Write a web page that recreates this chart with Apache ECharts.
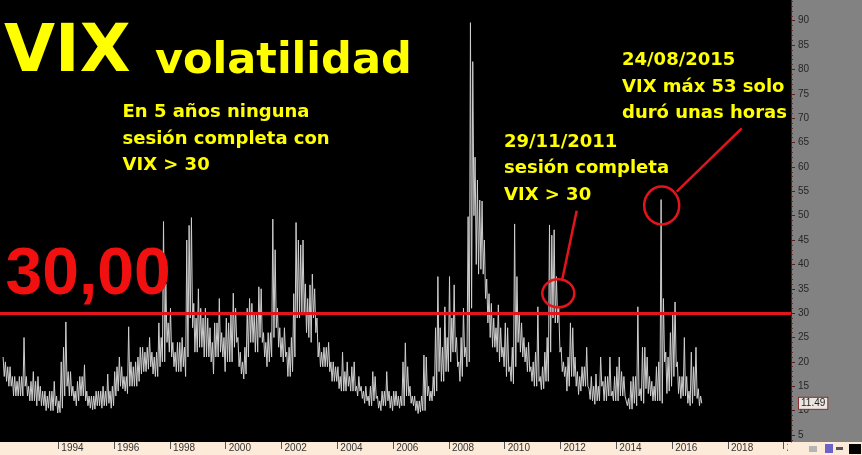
<!DOCTYPE html>
<html>
<head>
<meta charset="utf-8">
<script src="https://cdn.jsdelivr.net/npm/echarts@6/dist/echarts.min.js"></script>
<style>
html,body{margin:0;padding:0;background:#000;}
#c{width:862px;height:455px;}
</style>
</head>
<body>
<div id="c"></div>
<script>
// ---- data (monthly high / low of the VIX) ----
const startYear = 1992;
const monthlyHigh = [
  21, 20, 19, 19, 17, 17, 16, 17, 17, 25, 17, 15,          // 1992
  16, 18, 16, 17, 15, 14, 14, 13, 14, 14, 16, 13,          // 1993
  12, 20, 23, 28.2, 18, 18, 15, 14, 16, 17, 17, 19.4,      // 1994
  14, 13, 13, 13, 14, 14, 14, 15, 14, 17.5, 14, 15,        // 1995
  18, 19, 21, 19, 17, 17, 27.2, 20, 19, 20, 21, 23,        // 1996
  23, 22, 23, 25, 22, 21, 22, 28, 25, 48.8, 36, 28,        // 1997
  31, 24, 22, 24, 24, 25, 23, 45, 48, 49.6, 32, 29,        // 1998
  35, 31, 29, 31, 29, 27, 24, 28, 28, 33, 26, 25,          // 1999
  29, 28, 30, 34.1, 31, 25, 22, 20, 23, 31, 33, 32,        // 2000
  30, 30, 35.4, 35, 26, 24, 26, 26, 49.3, 43, 31, 27,      // 2001
  25, 27, 22, 23, 25, 34, 48.6, 45, 44, 45, 36, 33,        // 2002
  35.8, 38, 35, 29, 24, 22, 23, 23, 24, 20, 20, 19,        // 2003
  19, 17, 22, 18, 20, 17, 19, 20, 15, 17, 15, 14,          // 2004
  15, 13, 15, 18, 17, 13, 12, 14, 14, 18, 14, 13,          // 2005
  14, 14, 13, 13, 20, 23.9, 19, 15, 13, 13, 12, 12,        // 2006
  13, 21.4, 21, 15, 14, 17, 27, 37.5, 27, 23, 31.3, 25,    // 2007
  37.5, 29, 35.8, 25, 20, 25, 31, 23, 49.8, 89.6, 81.6, 62,// 2008
  57.3, 53.2, 53, 45, 37, 34, 32, 29, 27, 31.7, 27, 23,    // 2009
  28, 27, 19, 23, 48.3, 37.5, 30, 28, 25, 23, 24, 19,      // 2010
  20, 22, 31.3, 17, 19, 22, 25, 48.1, 46, 47.1, 37.5, 31,  // 2011
  23, 20, 19, 21, 28, 27, 21, 18, 17, 19, 19, 23,          // 2012
  14.5, 17, 15, 17.5, 15, 21, 16, 17, 17, 21, 14, 17,      // 2013
  19, 21, 18, 17, 13, 12.5, 16, 17, 17, 31.3, 14.5, 23,    // 2014
  23, 21, 17, 16, 15, 19, 20, 53.3, 33, 22, 21, 26,        // 2015
  30, 32.3, 20, 17, 17, 25, 17, 14, 22, 19, 23, 14.5,      // 2016
  13                                                       // 2017
];
const monthlyLow = [
  17, 16, 15, 15, 13, 13, 13, 13, 13, 15, 13, 12,          // 1992
  12, 12, 11, 12, 11, 11, 10, 10.5, 10, 10, 11, 9.5,       // 1993
  9.6, 10.5, 13, 15, 13, 13, 12, 11, 12, 13, 13, 12,       // 1994
  11, 10.5, 10.2, 10.3, 11, 11, 10.5, 11, 11, 11.5, 10.5, 11, // 1995
  13, 14, 15, 14.5, 14, 13.5, 15, 15, 15, 15, 16, 17.5,    // 1996
  18, 18, 18.5, 19, 17.5, 17, 17, 19, 20, 20, 24, 22,      // 1997
  21, 19, 18, 18, 18, 19, 17, 21, 29, 27, 22, 22,          // 1998
  23, 23, 21, 21, 21, 20, 17.5, 21, 21, 22, 21, 18,        // 1999
  20, 20, 20, 23, 24, 19, 17.5, 16.5, 17.5, 21, 24, 24,    // 2000
  22, 22, 25, 24, 21, 19, 20, 21, 25, 27, 23, 21,          // 2001
  20, 21, 17, 17, 18, 21, 29, 29, 30, 30, 26, 25,          // 2002
  24, 29, 26, 21, 19, 19, 19, 19, 18, 16, 16, 16,          // 2003
  14.5, 14, 14, 14, 15, 14, 14, 14, 13, 14, 12.5, 11.5,    // 2004
  12, 11, 11, 12, 12.5, 10.5, 10, 11, 11, 12, 10.5, 10,    // 2005
  11, 11, 10.5, 11, 11, 13, 13, 11.5, 11, 10, 9.4, 9.7,    // 2006
  10, 10, 13, 12, 12, 13, 14, 18, 16, 16, 18, 18,          // 2007
  20, 22, 22, 19, 16, 17, 21, 19, 20, 31, 50, 40,          // 2008
  38, 39, 38, 33, 28, 25, 23, 23, 22, 20, 21, 19,          // 2009
  17, 18, 16, 15.5, 19, 24, 22, 21, 20, 18, 18, 16,        // 2010
  15, 15, 16, 14.3, 14.5, 16, 16, 22, 29, 28, 28, 22,      // 2011
  18, 17, 14, 15, 17, 17, 15, 13.3, 14, 15, 15, 15,        // 2012
  12.3, 12, 11.3, 12, 12, 15, 12, 12, 13, 13, 12, 12,      // 2013
  12, 13, 13, 13, 11, 10.3, 10.3, 11.5, 11, 13, 12, 11.5,  // 2014
  14.5, 13.5, 13, 12, 12, 12, 12, 11.5, 20, 13.5, 14, 15,  // 2015
  17, 19, 13.5, 12.5, 13, 13, 11.5, 11, 11.5, 13, 12.5, 11,// 2016
  11.49                                                    // 2017
];
const threshold = 30;
const yTickValues = [5,10,15,20,25,30,35,40,45,50,55,60,65,70,75,80,85,90];
const yMinorTickValues = [4,6,7,8,9,11,12,13,14,16,17,18,19,21,22,23,24,26,27,28,29,31,32,33,34,36,37,38,39,41,42,43,44,46,47,48,49,51,52,53,54,56,57,58,59,61,62,63,64,66,67,68,69,71,72,73,74,76,77,78,79,81,82,83,84,86,87,88,89,91,92,93,94];
const xTickYears = [1994,1996,1998,2000,2002,2004,2006,2008,2010,2012,2014,2016,2018,2020];

// ---- build series ----
const seriesData = [];
for (let i = 0; i < monthlyHigh.length; i++) {
  const t = startYear + i / 12;
  seriesData.push([t + 0.25 / 12, monthlyHigh[i]]);
  seriesData.push([t + 0.75 / 12, monthlyLow[i]]);
}
const lastValue = monthlyLow[monthlyLow.length - 1];

const YELLOW = '#ffff00';
const RED = '#e3141c';
const bodyFont = 'bold 18px "DejaVu Sans"';
function txt(text, x, y, font, fill) {
  return { type: 'text', x: x, y: y, z: 50,
    style: { text: text, font: font, fill: fill || YELLOW, align: 'left', verticalAlign: 'middle' } };
}

const chart = echarts.init(document.getElementById('c'), null, { renderer: 'canvas' });
const graphics = [
  { type: 'rect', z: -10, shape: { x: 791, y: 0, width: 71, height: 442 }, style: { fill: '#828282' } },
  { type: 'rect', z: -10, shape: { x: 0, y: 442, width: 862, height: 13 }, style: { fill: '#fcebd9' } },
  { type: 'rect', z: 100, shape: { x: 788, y: 443, width: 74, height: 12 }, style: { fill: '#fcebd9' } },
  { type: 'rect', z: 101, shape: { x: 809, y: 446, width: 8, height: 6 }, style: { fill: '#b4b4b4' } },
  { type: 'rect', z: 101, shape: { x: 825, y: 444, width: 8, height: 9 }, style: { fill: '#6a63c8' } },
  { type: 'rect', z: 101, shape: { x: 836, y: 447, width: 7, height: 3 }, style: { fill: '#555555' } },
  { type: 'rect', z: 101, shape: { x: 849, y: 444, width: 12, height: 10 }, style: { fill: '#000000' } },
  // titles & notes
  txt('VIX', 4, 53.5, 'bold 66px "DejaVu Sans"'),
  txt('volatilidad', 155, 62.1, 'bold 43px "DejaVu Sans"'),
  txt('En 5 años ninguna', 122.5, 112.4, bodyFont),
  txt('sesión completa con', 122.5, 139.0, bodyFont),
  txt('VIX > 30', 122.5, 165.6, bodyFont),
  txt('24/08/2015', 622, 60.6, bodyFont),
  txt('VIX máx 53 solo', 622, 87.3, bodyFont),
  txt('duró unas horas', 622, 113.6, bodyFont),
  txt('29/11/2011', 504, 142.3, bodyFont),
  txt('sesión completa', 504, 168.4, bodyFont),
  txt('VIX > 30', 504, 195.1, bodyFont),
  txt(threshold.toFixed(2).replace('.', ','), 5.5, 275.6, 'bold 66px "Liberation Sans"', '#f01010'),
  // red circles and pointer lines
  { type: 'ellipse', z: 60, shape: { cx: 558.3, cy: 293.3, rx: 16, ry: 14 }, style: { fill: 'none', stroke: RED, lineWidth: 2.5 } },
  { type: 'ellipse', z: 60, shape: { cx: 661.7, cy: 205.5, rx: 17.5, ry: 19 }, style: { fill: 'none', stroke: RED, lineWidth: 2.5 } },
  { type: 'line', z: 60, shape: { x1: 576.7, y1: 210.7, x2: 562.3, y2: 279.3 }, style: { stroke: RED, lineWidth: 2.5 } },
  { type: 'line', z: 60, shape: { x1: 741.7, y1: 128.3, x2: 676.7, y2: 191.7 }, style: { stroke: RED, lineWidth: 2.5 } }
];

chart.setOption({
  backgroundColor: '#000000',
  animation: false,
  grid: { left: 0, right: 71, top: 0, bottom: 13, containLabel: false },
  xAxis: {
    type: 'value', min: 1991.91, max: 2020.26,
    axisLine: { show: false },
    splitLine: { show: false },
    axisTick: { show: true, customValues: xTickYears, length: 7, lineStyle: { color: '#555555', width: 1 } },
    axisLabel: {
      customValues: xTickYears, formatter: function (v) { return String(Math.round(v)); },
      align: 'left', padding: [0, 0, 0, 3], margin: 1, color: '#333333', fontSize: 10,
      fontFamily: '"Liberation Sans Narrow", "Liberation Sans", sans-serif'
    }
  },
  yAxis: [{
    type: 'value', position: 'right', min: 3.56, max: 94.25,
    splitLine: { show: false },
    axisLine: { show: true, lineStyle: { color: '#5c1c1c', width: 1 } },
    axisTick: { show: true, customValues: yTickValues, length: 4, lineStyle: { color: '#5c1c1c' } },
    axisLabel: { customValues: yTickValues, margin: 7, color: '#262626', fontSize: 10,
      fontFamily: '"Liberation Sans Narrow", "Liberation Sans", sans-serif' }
  }, {
    type: 'value', position: 'right', min: 3.56, max: 94.25,
    splitLine: { show: false }, axisLine: { show: false }, axisLabel: { show: false },
    axisTick: { show: true, customValues: yMinorTickValues, length: 2, lineStyle: { color: '#6b2a2a' } }
  }],
  series: [{
    type: 'line', data: seriesData, yAxisIndex: 0,
    showSymbol: false, symbol: 'none', silent: true, clip: true,
    lineStyle: { color: '#cfcfcf', width: 1 },
    markLine: {
      silent: true, symbol: 'none', animation: false,
      data: [
        { yAxis: threshold, lineStyle: { color: RED, width: 3, type: 'solid' }, label: { show: false } }
      ]
    }
  }],
  graphic: graphics
});

// last-value tag on the right axis, placed through the axis scale
const lastY = chart.convertToPixel({ yAxisIndex: 0 }, lastValue);
const axisX = chart.convertToPixel({ xAxisIndex: 0 }, 2020.26);
graphics.push({
  type: 'text', z: 120, x: axisX + 8, y: lastY,
  style: { text: lastValue.toFixed(2), font: '10px "Liberation Sans"', fill: '#1e1e1e',
    align: 'left', verticalAlign: 'middle', backgroundColor: '#ece6e0',
    borderColor: '#8a3030', borderWidth: 1, padding: [1, 2, 0, 2] }
});
chart.setOption({ graphic: graphics });
</script>
</body>
</html>
